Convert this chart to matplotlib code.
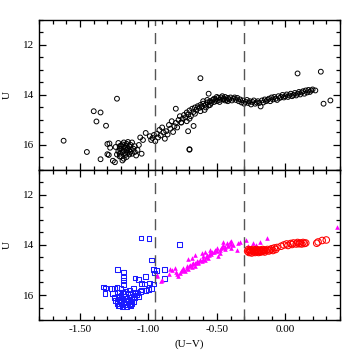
import numpy as np
import matplotlib
matplotlib.use("Agg")
import matplotlib.pyplot as plt
from matplotlib.ticker import MultipleLocator, FormatStrFormatter

# colour-magnitude data
# top panel: all stars (open black circles)
top_x = [-1.62, -1.23, -1.40, -1.35, -1.38, -1.31, -1.45, -1.35, -1.26, -1.245,
         -0.62, -0.70, -0.70, -0.71, -0.67, 0.09, 0.26, 0.28, 0.33, -0.56, -0.76,
         -1.22, -1.21, -1.20, -1.19, -1.18, -1.17, -1.16, -1.15, -1.14, -1.13, -1.12,
         -1.21, -1.20, -1.19, -1.18, -1.17, -1.16, -1.15, -1.14, -1.13, -1.22, -1.20,
         -1.18, -1.16, -1.19, -1.17, -1.15, -1.13, -1.11, -1.10, -1.21, -1.23, -1.24,
         -1.18, -1.16, -1.14, -1.12, -1.10, -1.08, -1.09, -1.07, -1.06, -1.04, -1.02,
         -1.05, -1.30, -1.285, -1.30, -1.28, -1.21, -1.29,
         -0.99, -0.98, -0.97, -0.96, -0.95, -0.94, -0.93, -0.92, -0.91, -0.90, -0.89,
         -0.88, -0.87, -0.86, -0.85, -0.84, -0.83, -0.82, -0.81, -0.80, -0.80, -0.79,
         -0.78, -0.77, -0.76, -0.75, -0.74, -0.73, -0.72, -0.71, -0.70, -0.69, -0.68,
         -0.67, -0.66, -0.65, -0.64, -0.63, -0.62, -0.61, -0.60, -0.59, -0.58, -0.57,
         -0.56, -0.55, -0.54, -0.53, -0.52, -0.51, -0.50, -0.49, -0.48, -0.47, -0.46,
         -0.45, -0.44, -0.43, -0.42, -0.41, -0.40, -0.39, -0.38, -0.37, -0.36, -0.35,
         -0.34, -0.33, -0.32, -0.31, -0.30, -0.29, -0.28, -0.27, -0.26, -0.25, -0.24,
         -0.23, -0.22, -0.21, -0.20, -0.19, -0.18, -0.17, -0.16, -0.15, -0.14, -0.13,
         -0.12, -0.11, -0.10, -0.09, -0.08, -0.07, -0.06, -0.05, -0.04, -0.03, -0.02,
         -0.01, 0.00, 0.01, 0.02, 0.03, 0.04, 0.05, 0.06, 0.07, 0.08, 0.09, 0.10, 0.11,
         0.12, 0.13, 0.14, 0.15, 0.16, 0.17, 0.18, 0.19, 0.20, 0.22,
         -0.52, -0.50, -0.48, -0.46, -0.44, -0.42, -0.55, -0.58, -0.62, -0.66, -0.70,
         -0.72, -0.60, -0.57]
top_y = [15.83, 14.15, 14.65, 14.70, 15.06, 15.23, 16.28, 16.57, 16.63, 16.69,
         13.33, 16.17, 16.19, 15.45, 15.24, 13.14, 13.07, 14.35, 14.22, 13.95, 15.10,
         15.92, 16.05, 16.15, 15.98, 16.22, 16.10, 15.95, 16.30, 16.05, 16.18, 15.90,
         16.35, 16.45, 16.28, 16.55, 16.40, 16.20, 16.12, 16.38, 16.00, 16.25, 16.02,
         15.90, 16.48, 16.62, 16.32, 15.88, 16.28, 16.15, 16.05, 16.15, 16.38, 16.08,
         16.08, 16.02, 16.22, 16.35, 16.28, 16.20, 16.42, 16.00, 15.70, 15.80, 15.52,
         16.35, 15.96, 15.94, 16.37, 16.11, 16.46, 16.40,
         15.65, 15.80, 15.72, 15.60, 15.85, 15.55, 15.70, 15.40, 15.62, 15.30, 15.50,
         15.75, 15.45, 15.58, 15.20, 15.35, 15.05, 15.48, 15.25, 14.55, 15.12, 15.30,
         15.00, 14.85, 15.10, 14.95, 14.80, 14.90, 14.70, 14.78, 14.62, 14.85, 14.55,
         14.68, 14.50, 14.60, 14.45, 14.52, 14.40, 14.48, 14.35, 14.60, 14.38, 14.30,
         14.42, 14.25, 14.32, 14.20, 14.28, 14.18, 14.25, 14.12, 14.20, 14.10, 14.18,
         14.15, 14.08, 14.20, 14.12, 14.18, 14.10, 14.22, 14.15, 14.10, 14.20, 14.12,
         14.25, 14.18, 14.30, 14.22, 14.35, 14.28, 14.20, 14.32, 14.25, 14.38, 14.28,
         14.22, 14.35, 14.30, 14.25, 14.32, 14.46, 14.22, 14.30, 14.18, 14.25, 14.20,
         14.15, 14.25, 14.10, 14.18, 14.08, 14.15, 14.20, 14.05, 14.12, 14.08, 14.00,
         14.10, 14.05, 13.98, 14.08, 14.02, 13.95, 14.05, 14.00, 13.92, 14.02, 13.95,
         13.88, 13.98, 13.90, 13.85, 13.95, 13.82, 13.90, 13.80, 13.88, 13.82, 13.78,
         13.82,
         14.15, 14.08, 14.28, 14.05, 14.22, 14.25, 14.40, 14.50, 14.65, 14.75, 14.95,
         15.05, 14.25, 14.20]

# bottom panel: blue squares (U-V < -0.95)
blue_x = [-1.055, -0.996, -0.98, -0.77, -1.228, -1.184, -1.18, -1.18, -1.185, -1.098,
          -1.074, -1.02, -0.965, -0.955, -0.94, -0.965, -0.88, -0.88, -0.994, -1.05,
          -1.03, -1.33, -1.315, -1.318, -1.25, -1.23, -1.20, -1.05, -1.02, -1.00, -0.98,
          -1.27, -1.26, -1.25, -1.24, -1.23, -1.22, -1.22, -1.21, -1.21, -1.20, -1.20,
          -1.19, -1.19, -1.18, -1.18, -1.17, -1.17, -1.16, -1.16, -1.15, -1.15, -1.14,
          -1.14, -1.13, -1.13, -1.12, -1.12, -1.11, -1.11, -1.10, -1.10, -1.09, -1.08,
          -1.07, -1.06, -1.23, -1.21, -1.16, -1.13, -1.17, -1.14, -1.11, -1.19]
blue_y = [13.72, 13.74, 14.60, 13.98, 14.99, 15.08, 15.30, 15.42, 15.58, 15.32,
          15.39, 15.26, 14.99, 15.12, 15.02, 15.56, 14.99, 15.35, 15.52, 15.55,
          15.56, 15.68, 15.72, 15.94, 15.73, 15.70, 15.74, 15.80, 15.82, 15.78, 15.75,
          15.75, 15.95, 16.10, 16.22, 16.35, 16.05, 16.42, 15.90, 16.18, 16.30, 16.02,
          16.45, 16.12, 15.95, 16.25, 16.38, 16.05, 16.15, 16.32, 15.92, 16.22, 16.40,
          16.08, 16.28, 15.98, 16.18, 16.35, 16.05, 16.25, 15.88, 16.12, 16.00, 15.92,
          16.05, 15.85, 16.25, 16.42, 16.45, 16.42, 15.85, 15.80, 15.75, 15.88]

# magenta triangles (-0.95 < U-V < -0.30)
mag_x = [-0.94, -0.909, -0.904, -0.83, -0.782, -0.770, -0.758, -0.746, -0.734, -0.721,
         -0.709, -0.697, -0.685, -0.673, -0.660, -0.648, -0.636, -0.624, -0.612, -0.600,
         -0.587, -0.575, -0.563, -0.551, -0.539, -0.515, -0.502, -0.490, -0.478, -0.466,
         -0.454, -0.442, -0.429, -0.417, -0.405, -0.393, -0.381, -0.352, -0.332, -0.284,
         -0.708, -0.685, -0.660, -0.612, -0.587, -0.551, -0.454, -0.393, -0.345, -0.235,
         -0.187, -0.133, -0.216, -0.272, -0.247, 0.378,
         -0.80, -0.79, -0.76, -0.74, -0.72, -0.70, -0.68, -0.66, -0.64, -0.62, -0.60,
         -0.58, -0.56, -0.54, -0.52, -0.50, -0.48, -0.46, -0.44, -0.42, -0.40, -0.85,
         -0.94, -0.843, -0.807]
mag_y = [15.26, 15.43, 15.39, 14.99, 15.26, 15.13, 14.99, 14.93, 15.06, 14.86,
         14.97, 14.79, 14.89, 14.73, 14.83, 14.66, 14.73, 14.60, 14.66, 14.46,
         14.60, 14.40, 14.53, 14.33, 14.27, 14.20, 14.14, 14.46, 14.33, 14.14,
         14.00, 14.07, 13.94, 14.00, 13.87, 14.14, 14.00, 14.20, 13.87, 13.81,
         14.57, 14.53, 14.40, 14.33, 14.27, 14.20, 13.87, 13.83, 13.94, 13.91,
         13.87, 13.74, 14.00, 14.04, 14.10, 13.30,
         15.10, 15.18, 15.05, 15.00, 14.92, 14.85, 14.78, 14.72, 14.68, 14.62, 14.55,
         14.48, 14.42, 14.38, 14.30, 14.25, 14.22, 14.10, 14.18, 14.05, 13.95, 15.15,
         15.19, 14.96, 14.93]

# red circles (U-V > -0.30)
red_x = [-0.275, -0.27, -0.265, -0.26, -0.255, -0.25, -0.245, -0.24, -0.235, -0.23,
         -0.225, -0.22, -0.215, -0.21, -0.205, -0.20, -0.195, -0.19, -0.185, -0.18,
         -0.175, -0.17, -0.165, -0.16, -0.155, -0.15, -0.14, -0.13, -0.12, -0.11,
         -0.10, -0.09, -0.08, -0.07, -0.06, -0.03, -0.01, 0.01, 0.02, 0.04, 0.05,
         0.06, 0.08, 0.09, 0.10, 0.11, 0.12, 0.13, 0.14, 0.15, 0.23, 0.24, 0.27, 0.30]
red_y = [14.25, 14.18, 14.30, 14.22, 14.28, 14.20, 14.32, 14.25, 14.18, 14.28,
         14.22, 14.30, 14.24, 14.18, 14.27, 14.22, 14.30, 14.25, 14.20, 14.28,
         14.22, 14.26, 14.18, 14.24, 14.20, 14.28, 14.22, 14.18, 14.24, 14.20,
         14.15, 14.22, 14.12, 14.18, 14.10, 14.05, 14.00, 13.96, 14.02, 13.94, 13.98,
         13.92, 13.96, 13.90, 13.95, 13.92, 13.96, 13.90, 13.94, 13.92, 13.93, 13.88,
         13.82, 13.80]

cuts = [-0.95, -0.30]

plt.rcParams['font.family'] = ['Liberation Serif', 'DejaVu Serif']
plt.rcParams['font.size'] = 8

fig = plt.figure(figsize=(3.59, 3.59), dpi=100)
ax1 = fig.add_axes([0.1086, 0.5265, 0.8384, 0.4180])
ax2 = fig.add_axes([0.1086, 0.1086, 0.8384, 0.4180])

ax1.scatter(top_x, top_y, s=12, facecolors='none', edgecolors='black', linewidths=0.7)
ax2.scatter(blue_x, blue_y, s=12, marker='s', facecolors='none', edgecolors='#1a1aff', linewidths=0.75)
ax2.scatter(mag_x, mag_y, s=11, marker='^', color='#ff00ff', linewidths=0)
ax2.scatter(red_x, red_y, s=22, facecolors='none', edgecolors='#ff0000', linewidths=0.75)

for ax in (ax1, ax2):
    for c in cuts:
        ax.axvline(c, color='#555555', lw=1.0, ls=(0, (8, 5)))
    ax.set_xlim(-1.8, 0.4)
    ax.set_ylim(17, 11)
    ax.xaxis.set_major_locator(MultipleLocator(0.5))
    ax.xaxis.set_minor_locator(MultipleLocator(0.1))
    ax.yaxis.set_major_locator(MultipleLocator(2))
    ax.yaxis.set_minor_locator(MultipleLocator(0.5))
    ax.tick_params(which='both', direction='in', top=True, right=True, width=0.9)
    ax.tick_params(which='major', length=5)
    ax.tick_params(which='minor', length=3)
    for sp in ax.spines.values():
        sp.set_linewidth(1.0)
    ax.set_ylabel('U', labelpad=8)

ax1.tick_params(labelbottom=False)
ax2.xaxis.set_major_formatter(FormatStrFormatter('%.2f'))
ax2.set_xlabel('(U\u2212V)', labelpad=4)

fig.savefig('out.png', dpi=100)
